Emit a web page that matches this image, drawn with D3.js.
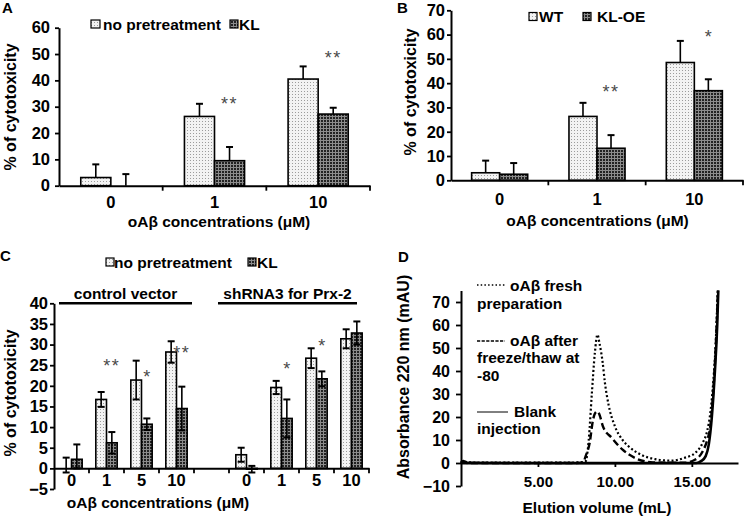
<!DOCTYPE html>
<html><head><meta charset="utf-8">
<script src="https://cdn.jsdelivr.net/npm/d3@7"></script>
<style>
body{margin:0;background:#fff}
svg{display:block}
text{font-family:"Liberation Sans",Arial,sans-serif}
</style>
</head><body>
<svg id="c" width="745" height="518"></svg>
<script>
// ---------- Panel A ----------
const catsA = ["0", "1", "10"];
const aNoPre = [3.1, 26.3, 40.5];
const aNoPreErr = [5.0, 4.8, 4.8];
const aKL = [0, 9.5, 27.2];
const aKLErr = [4.4, 5.2, 2.4];
const aStars = ["", "**", "**"];
const aStarY = [null, 32.5, 50];
const aYTicks = [0, 10, 20, 30, 40, 50, 60];

// ---------- Panel B ----------
const catsB = ["0", "1", "10"];
const bWT = [3.1, 26.3, 48.5];
const bWTErr = [5.0, 5.6, 8.9];
const bKLOE = [2.5, 13.2, 36.9];
const bKLOEErr = [4.6, 5.4, 4.7];
const bStars = ["", "**", "*"];
const bStarY = [null, 38, 60.6];
const bYTicks = [0, 10, 20, 30, 40, 50, 60, 70];

// ---------- Panel C ----------
const catsC = ["0", "1", "5", "10", "", "0", "1", "5", "10"];
const cNoPre = [0, 16.7, 21.4, 28.2, null, 3.3, 19.6, 26.7, 31.4];
const cNoPreErrUp = [2.6, 1.8, 4.7, 2.6, null, 1.7, 1.6, 2.4, 2.3];
const cNoPreErrDown = [1.0, 1.8, 4.7, 2.6, null, 1.7, 1.6, 2.4, 2.3];
const cKL = [2.2, 6.2, 10.7, 14.5, null, -0.2, 12.1, 21.7, 32.8];
const cKLErrUp = [3.6, 2.6, 1.4, 5.3, null, 0.8, 4.6, 1.8, 2.8];
const cKLErrDown = [2.2, 2.6, 1.4, 5.3, null, 0.8, 4.6, 1.8, 2.8];
const cStars = ["", "**", "*", "**", "", "", "*", "*", ""];
const cStarY = [null, 25.8, 23.1, 29, null, null, 25, 30.6, null];
const cGroups = ["control vector", "shRNA3 for Prx-2"];
const cYTicks = [-5, 0, 5, 10, 15, 20, 25, 30, 35, 40];

// ---------- Panel D ----------
const dFreshX = [0, 0.2, 0.4, 1, 3, 5, 7, 7.8, 8.1, 8.3, 8.5, 8.7, 8.87, 9.0, 9.2, 9.35, 9.6, 10.0, 10.5, 10.9, 11.7, 12.6, 13.7, 14.5, 15.2, 15.7, 16.0, 16.2, 16.4, 16.55, 16.68];
const dFreshY = [0.3, 0.9, 0.3, 0.2, 0.2, 0.2, 0.2, 0.3, 0.8, 10, 30, 48, 55.8, 52, 44, 35, 25, 16, 10, 7.2, 3.6, 1.7, 1.0, 2.2, 4.3, 8.7, 14, 21.7, 36, 52, 75];
const dFreezeX = [0, 0.2, 0.4, 2, 5, 7.5, 7.94, 8.1, 8.36, 8.58, 8.75, 8.87, 9.0, 9.22, 9.8, 10.5, 11.4, 12.3, 13.5, 14.5, 15.2, 15.7, 16.0, 16.2, 16.4, 16.55, 16.7];
const dFreezeY = [0, 0.6, 0, 0, 0, 0, 0.3, 3, 8.7, 18.8, 22, 22.4, 21, 16, 10.9, 5.8, 1.9, 0.4, 0.1, 0.1, 1.4, 5, 10, 16, 32, 50, 75];
const dBlankX = [0, 0.15, 0.3, 3, 8, 12, 15.3, 15.6, 15.9, 16.1, 16.3, 16.5, 16.65, 16.72];
const dBlankY = [0, 0.8, 0.1, 0, 0, 0, 0, 0.8, 3, 8, 20, 40, 60, 75];
const dXTicks = [5, 10, 15];
const dYTicks = [-10, 0, 10, 20, 30, 40, 50, 60, 70];

const svg = d3.select("#c");
svg.append("rect").attr("width", 745).attr("height", 518).attr("fill", "#fff");

// patterns
const defs = svg.append("defs");
const pl = defs.append("pattern").attr("id", "light").attr("patternUnits", "userSpaceOnUse").attr("width", 3).attr("height", 3);
pl.append("rect").attr("width", 3).attr("height", 3).attr("fill", "#f3f3f3");
pl.append("rect").attr("x", 1).attr("y", 1).attr("width", 1).attr("height", 1).attr("fill", "#9c9c9c");
const pd = defs.append("pattern").attr("id", "dark").attr("patternUnits", "userSpaceOnUse").attr("width", 3).attr("height", 3);
pd.append("rect").attr("width", 3).attr("height", 3).attr("fill", "#8c8c8c");
pd.append("rect").attr("width", 2).attr("height", 2).attr("fill", "#222");

const FS = 15, TFS = 16.5, RFS = 16;

function styleAxis(sel, fs) {
  sel.select(".domain").attr("stroke", "#000").attr("stroke-width", 2);
  sel.selectAll(".tick line").attr("stroke", "#000").attr("stroke-width", 1.8);
  sel.selectAll(".tick text").attr("fill", "#000").attr("font-size", fs || TFS).attr("font-weight", "bold")
    .attr("font-family", '"Liberation Sans",Arial,sans-serif');
}

function barPanel(o) {
  const g = svg.append("g");
  const x = d3.scaleBand().domain(o.cats.map((d, i) => i)).range(o.xRange);
  const y = d3.scaleLinear().domain(o.yDomain).range(o.yRange);
  const bw = x.bandwidth();
  const pairW = bw * o.pairFrac;
  const xs = d3.scaleBand().domain(o.series.map((s, i) => i)).range([0, pairW]);
  const off = (bw - pairW) / 2;

  o.series.forEach((s, si) => {
    const idx = o.cats.map((c, i) => i).filter(i => s.vals[i] != null);
    g.append("g").selectAll("rect").data(idx).join("rect")
      .attr("x", i => x(i) + off + xs(si))
      .attr("y", i => Math.min(y(s.vals[i]), y(0)))
      .attr("width", xs.bandwidth())
      .attr("height", i => Math.abs(y(s.vals[i]) - y(0)))
      .attr("fill", `url(#${s.pat})`)
      .attr("stroke", "#000").attr("stroke-width", 1.6);
  });
  // error bars
  o.series.forEach((s, si) => {
    const idx = o.cats.map((c, i) => i).filter(i => s.vals[i] != null);
    const eg = g.append("g").attr("stroke", "#000").attr("stroke-width", 1.6);
    idx.forEach(i => {
      const cx = x(i) + off + xs(si) + xs.bandwidth() / 2;
      const hi = s.vals[i] + s.up[i];
      const lo = s.down ? s.vals[i] - s.down[i] : s.vals[i];
      eg.append("line").attr("x1", cx).attr("x2", cx).attr("y1", y(hi)).attr("y2", y(lo));
      eg.append("line").attr("x1", cx - 3.5).attr("x2", cx + 3.5).attr("y1", y(hi)).attr("y2", y(hi)).attr("stroke-width", 2);
      if (s.down) eg.append("line").attr("x1", cx - 3.5).attr("x2", cx + 3.5).attr("y1", y(lo)).attr("y2", y(lo)).attr("stroke-width", 2);
    });
  });
  // stars
  const starSer = o.series.length - 1;
  o.cats.forEach((c, i) => {
    if (!o.stars[i]) return;
    const cx = x(i) + off + xs(starSer) + xs.bandwidth() / 2;
    g.append("text").attr("x", cx).attr("y", y(o.starY[i]) + 10).attr("text-anchor", "middle")
      .attr("font-size", 18).attr("fill", "#4a4a4a").attr("letter-spacing", o.stars[i].length > 1 ? 1.5 : 0)
      .text(o.stars[i]);
  });
  // y axis
  const ya = d3.axisLeft(y).tickValues(o.yTicks).tickSize(4).tickPadding(o.yPad).tickSizeOuter(0);
  g.append("g").attr("transform", `translate(${o.xRange[0]},0)`).call(ya).call(styleAxis);
  // x axis at zero
  const xa = d3.axisBottom(x).tickSize(0).tickPadding(o.xPad).tickFormat(i => o.cats[i]).tickSizeOuter(0);
  g.append("g").attr("transform", `translate(0,${y(0)})`).call(xa).call(styleAxis);
  // boundary ticks
  const bounds = o.cats.map((c, i) => i).slice(1).map(i => x(i)).concat([o.xRange[1]]);
  g.append("g").selectAll("line").data(bounds).join("line")
    .attr("x1", d => d).attr("x2", d => d).attr("y1", y(0)).attr("y2", y(0) + 5)
    .attr("stroke", "#000").attr("stroke-width", 1.8);
  return { x, y, g, off, xs };
}

function legendItem(x, yTop, w, h, pat, label, tx) {
  svg.append("rect").attr("x", x).attr("y", yTop).attr("width", w).attr("height", h)
    .attr("fill", `url(#${pat})`).attr("stroke", "#000").attr("stroke-width", 1.2);
  svg.append("text").attr("x", tx).attr("y", yTop + h / 2 + 5.6).attr("font-size", FS + 0.5).attr("font-weight", "bold").text(label);
}
function title(x, y, txt, rot) {
  const t = svg.append("text").attr("font-size", rot ? RFS : FS + 0.5).attr("font-weight", "bold").attr("text-anchor", "middle");
  if (rot) t.attr("transform", `translate(${x},${y}) rotate(-90)`).attr("dy", "0.36em");
  else t.attr("x", x).attr("y", y);
  t.text(txt);
}
function letter(x, y, l) {
  svg.append("text").attr("x", x).attr("y", y).attr("font-size", FS).attr("font-weight", "bold").text(l);
}

// ===== A =====
barPanel({
  cats: catsA, xRange: [59, 370], yDomain: [0, 60], yRange: [185.7, 27.7], yTicks: aYTicks,
  pairFrac: 0.58, yPad: 5, xPad: 11,
  series: [{ vals: aNoPre, up: aNoPreErr, pat: "light" }, { vals: aKL, up: aKLErr, pat: "dark" }],
  stars: aStars, starY: aStarY
});
legendItem(91, 20, 9, 8, "light", "no pretreatment", 103);
legendItem(230, 20, 8, 8, "dark", "KL", 239);
title(219, 227, "oAβ concentrations (μM)");
title(10, 107, "% of cytotoxicity", true);
letter(2, 13, "A");

// ===== B =====
barPanel({
  cats: catsB, xRange: [451, 743], yDomain: [0, 70], yRange: [180.3, 10.3], yTicks: bYTicks,
  pairFrac: 0.576, yPad: 2, xPad: 12.5,
  series: [{ vals: bWT, up: bWTErr, pat: "light" }, { vals: bKLOE, up: bKLOEErr, pat: "dark" }],
  stars: bStars, starY: bStarY
});
legendItem(529, 12.5, 8, 8, "light", "WT", 539);
legendItem(583, 12.5, 8, 8, "dark", "KL-OE", 597);
title(597.5, 226, "oAβ concentrations (μM)");
title(410, 92, "% of cytotoxicity", true);
letter(397, 13, "B");

// ===== C =====
barPanel({
  cats: catsC, xRange: [54, 369], yDomain: [-5, 40], yRange: [489, 303.3], yTicks: cYTicks,
  pairFrac: 0.61, yPad: 2, xPad: 5.5,
  series: [{ vals: cNoPre, up: cNoPreErrUp, down: cNoPreErrDown, pat: "light" },
           { vals: cKL, up: cKLErrUp, down: cKLErrDown, pat: "dark" }],
  stars: cStars, starY: cStarY
});
legendItem(106, 258, 8, 8, "light", "no pretreatment", 114);
legendItem(248, 258, 8, 8, "dark", "KL", 257);
const groupSpans = [[59, 192], [218, 357]];
cGroups.forEach((gname, i) => {
  const [a, b] = groupSpans[i];
  svg.append("line").attr("x1", a).attr("x2", b).attr("y1", 303.3).attr("y2", 303.3).attr("stroke", "#000").attr("stroke-width", 2.5);
  svg.append("text").attr("x", (a + b) / 2).attr("y", 298.5).attr("text-anchor", "middle").attr("font-size", FS + 0.5).attr("font-weight", "bold").text(gname);
});
title(158, 507.5, "oAβ concentrations (μM)");
title(10, 393, "% of cytotoxicity", true);
letter(0, 261, "C");

// ===== D =====
const dx = d3.scaleLinear().domain([0, 18]).range([461, 738]);
const dy = d3.scaleLinear().domain([-10, 75]).range([486, 290.5]);
const line = d3.line().x(d => dx(d[0])).y(d => dy(d[1])).curve(d3.curveMonotoneX);
const dg = svg.append("g");
dg.append("path").attr("d", line(dBlankX.map((v, i) => [v, dBlankY[i]])))
  .attr("fill", "none").attr("stroke", "#000").attr("stroke-width", 2.6);
dg.append("path").attr("d", line(dFreezeX.map((v, i) => [v, dFreezeY[i]])))
  .attr("fill", "none").attr("stroke", "#000").attr("stroke-width", 2.4).attr("stroke-dasharray", "7,3.5");
dg.append("path").attr("d", line(dFreshX.map((v, i) => [v, dFreshY[i]])))
  .attr("fill", "none").attr("stroke", "#000").attr("stroke-width", 2.2).attr("stroke-dasharray", "2,2.3");
const dya = d3.axisLeft(dy).tickValues(dYTicks).tickSize(5).tickPadding(6).tickSizeOuter(0);
dg.append("g").attr("transform", "translate(461,0)").call(dya).call(s => styleAxis(s, 16));
const dxa = d3.axisBottom(dx).tickValues(dXTicks).tickFormat(d3.format(".2f")).tickSize(4).tickPadding(9).tickSizeOuter(0);
dg.append("g").attr("transform", `translate(0,${dy(0)})`).call(dxa).call(s => styleAxis(s, 15));

// legend D
const dLeg = [
  { y: 285, dash: "1.5,2.2", w: 1.6, lines: ["oAβ fresh", "preparation"], tx: 510, ys: [290.5, 308.5] },
  { y: 341, dash: "3.2,1.4", w: 1.6, lines: ["oAβ after", "freeze/thaw at", "-80"], tx: 510, ys: [346, 362.5, 380.5] },
  { y: 412, dash: null, w: 1, lines: ["Blank", "injection"], tx: 514, ys: [417, 433.5] }
];
dLeg.forEach(L => {
  const ln = svg.append("line").attr("x1", 477).attr("x2", L.dash ? 505 : 508).attr("y1", L.y).attr("y2", L.y)
    .attr("stroke", "#000").attr("stroke-width", L.w);
  if (L.dash) ln.attr("stroke-dasharray", L.dash);
  L.lines.forEach((t, j) => {
    svg.append("text").attr("x", j === 0 ? L.tx : 477).attr("y", L.ys[j]).attr("font-size", FS + 0.5).attr("font-weight", "bold").text(t);
  });
});
title(597, 513, "Elution volume (mL)");
title(403, 377, "Absorbance 220 nm (mAU)", true);
letter(398, 262, "D");
</script>
</body></html>
